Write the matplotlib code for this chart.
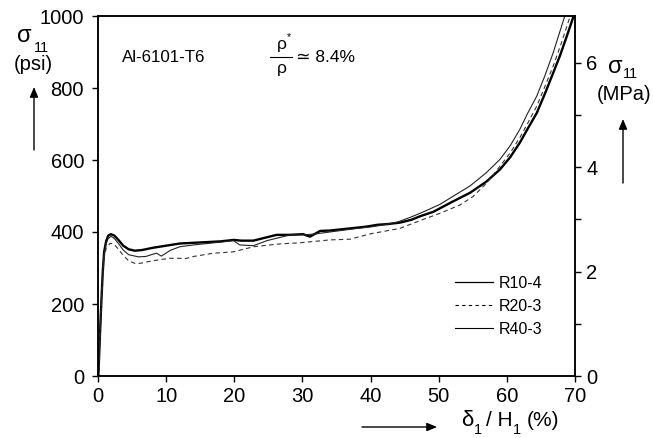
import matplotlib
matplotlib.use("Agg")
import matplotlib.pyplot as plt
from matplotlib.lines import Line2D

plt.rcParams['font.family'] = ['Liberation Sans', 'DejaVu Sans']

# R10-4 (thick solid)
d_r10 = [0.05, 0.3, 0.5, 0.7, 0.9, 1.2, 1.5, 1.9, 2.4, 3.0, 3.7, 4.5, 5.4, 6.5, 8, 10, 12, 14, 16,
         18, 19.9, 21, 22.8, 24.5, 26.2, 28, 30.1, 31.1, 32.6, 34, 36, 38, 39.4, 41, 42.5, 44.3, 46,
         47.3, 49.2, 50.2, 52, 54.6, 57, 59, 60.5, 61.9, 63, 64.4, 65.6, 66.8, 67.8, 68.8, 69.8, 70.2]
s_r10 = [0, 120, 210, 290, 345, 375, 390, 394, 390, 378, 362, 352, 348, 350, 356, 362, 368, 370, 372,
         374, 378, 376, 376, 384, 392, 392, 394, 387, 403, 404, 408, 412, 415, 420, 422, 426, 434,
         444, 456, 466, 484, 509, 540, 574, 608, 648, 685, 731, 785, 842, 890, 944, 1000, 1020]

# R20-3 (dashed)
d_r20 = [0.05, 0.3, 0.5, 0.7, 0.9, 1.2, 1.8, 2.4, 3.0, 3.7, 4.5, 5.4, 6.2, 7.5, 9, 10.6, 12, 12.8,
         14, 16.9, 19.9, 22.8, 26.7, 29.6, 34, 37, 40, 44.3, 47.3, 50.2, 53.1, 55, 57, 59, 60.5,
         61.9, 63, 64.4, 65.6, 66.8, 68, 69.3, 70]
s_r20 = [0, 120, 210, 285, 330, 355, 369, 365, 352, 335, 320, 313, 313, 318, 323, 327, 327, 326,
         332, 341, 345, 359, 367, 370, 378, 380, 395, 410, 432, 452, 475, 498, 535, 583, 620,
         662, 700, 750, 805, 861, 925, 1000, 1040]

# R40-3 (thin solid)
d_r40 = [0.05, 0.3, 0.5, 0.7, 0.9, 1.2, 1.5, 1.9, 2.4, 3.0, 3.7, 4.5, 5.9, 7, 8.0, 8.6, 9.3, 10.6,
         12, 14, 16, 18, 19.9, 20.8, 22.8, 24.8, 26.5, 28.2, 30, 31.6, 34, 36, 38, 40, 42, 44, 46,
         48, 50.2, 52, 54.6, 57, 59, 60.5, 61.9, 63, 64.4, 65.6, 66.8, 67.8, 68.5, 69]
s_r40 = [0, 120, 210, 290, 340, 368, 382, 388, 382, 368, 350, 337, 331, 332, 338, 341, 333, 349,
         359, 364, 368, 372, 376, 364, 362, 376, 384, 392, 392, 394, 400, 405, 410, 414, 420, 428,
         442, 458, 477, 498, 528, 565, 602, 640, 685, 728, 778, 835, 898, 958, 1000, 1030]

labels = ['R10-4', 'R20-3', 'R40-3']
psi_ticks = [0, 200, 400, 600, 800, 1000]
d_ticks = [0, 10, 20, 30, 40, 50, 60, 70]
mpa_ticks = [0, 1, 2, 3, 4, 5, 6]
mpa_labels = ['0', '', '2', '', '4', '', '6']

W, H = 653, 438
fig = plt.figure(figsize=(W / 100, H / 100), dpi=100)
ax = fig.add_axes([98 / W, 1 - 376 / H, 477 / W, 360 / H])

dash = (0, (4, 3))
ax.plot(d_r10, s_r10, color='black', lw=1.7)
ax.plot(d_r20, s_r20, color='#333333', lw=0.8, ls=dash)
ax.plot(d_r40, s_r40, color='#222222', lw=0.8)

ax.set_xlim(0, 70)
ax.set_ylim(0, 1000)
ax.set_xticks(d_ticks)
ax.set_yticks(psi_ticks)
ax.tick_params(axis='x', direction='out', length=4, width=1, labelsize=14.5, pad=4)
ax.tick_params(axis='y', direction='out', length=4, width=1, labelsize=14.5, pad=6)
for sp in ax.spines.values():
    sp.set_linewidth(1.1)

ax2 = ax.twinx()
ax2.set_ylim(0, 1000 * 0.006895)
ax2.set_yticks(mpa_ticks)
ax2.set_yticklabels(mpa_labels)
ax2.tick_params(axis='y', direction='out', length=4, width=1, labelsize=14.5, pad=4)
for sp in ax2.spines.values():
    sp.set_linewidth(1.1)

# legend handles drawn thin, as in the original figure
handles = [Line2D([], [], color='black', lw=0.9),
           Line2D([], [], color='black', lw=0.8, ls=(0, (3, 3))),
           Line2D([], [], color='black', lw=0.8)]
ax.legend(handles, labels, loc='upper left', bbox_to_anchor=((455 - 98) / 477, (376 - 276) / 360),
          frameon=False, fontsize=11.5, handlelength=2.4, handletextpad=0.35,
          labelspacing=0.5, borderaxespad=0, borderpad=0)


def ftext(x, y, s, size, **kw):
    fig.text(x / W, 1 - y / H, s, fontsize=size, va='center', **kw)


def farrow(x0, y0, x1, y1):
    fig.patches.append(matplotlib.patches.FancyArrowPatch(
        (x0 / W, 1 - y0 / H), (x1 / W, 1 - y1 / H), transform=fig.transFigure,
        arrowstyle='-|>,head_length=6,head_width=2.5', color='black', lw=1,
        shrinkA=0, shrinkB=0))


# left axis label
ftext(17, 36, 'σ', 17)
ftext(34, 48, '11', 10.5)
ftext(33, 65, '(psi)', 14.5, ha='center')
farrow(34, 150, 34, 87)

# right axis label
ftext(608, 67, 'σ', 17)
ftext(623, 74, '11', 10.5)
ftext(624, 95, '(MPa)', 14.5, ha='center')
farrow(623, 183, 623, 119)

# bottom axis label
farrow(362, 427, 437, 427)
ftext(461, 420, 'δ', 16)
ftext(474, 430, '1', 10.5)
ftext(486, 421, '/ H', 15)
ftext(513, 430, '1', 10.5)
ftext(527, 421, '(%)', 15)

# annotations
ftext(122, 58, 'Al-6101-T6', 12.2)
ftext(282, 44, 'ρ', 12.5, ha='center')
ftext(289, 37, '*', 7.5, ha='center')
ftext(282, 68, 'ρ', 12.5, ha='center')
fig.add_artist(Line2D([270 / W, 292 / W], [1 - 57 / H, 1 - 57 / H], color='black', lw=0.8))
ftext(296, 58, '≃ 8.4%', 12.5)

fig.savefig('out.png', dpi=100)
